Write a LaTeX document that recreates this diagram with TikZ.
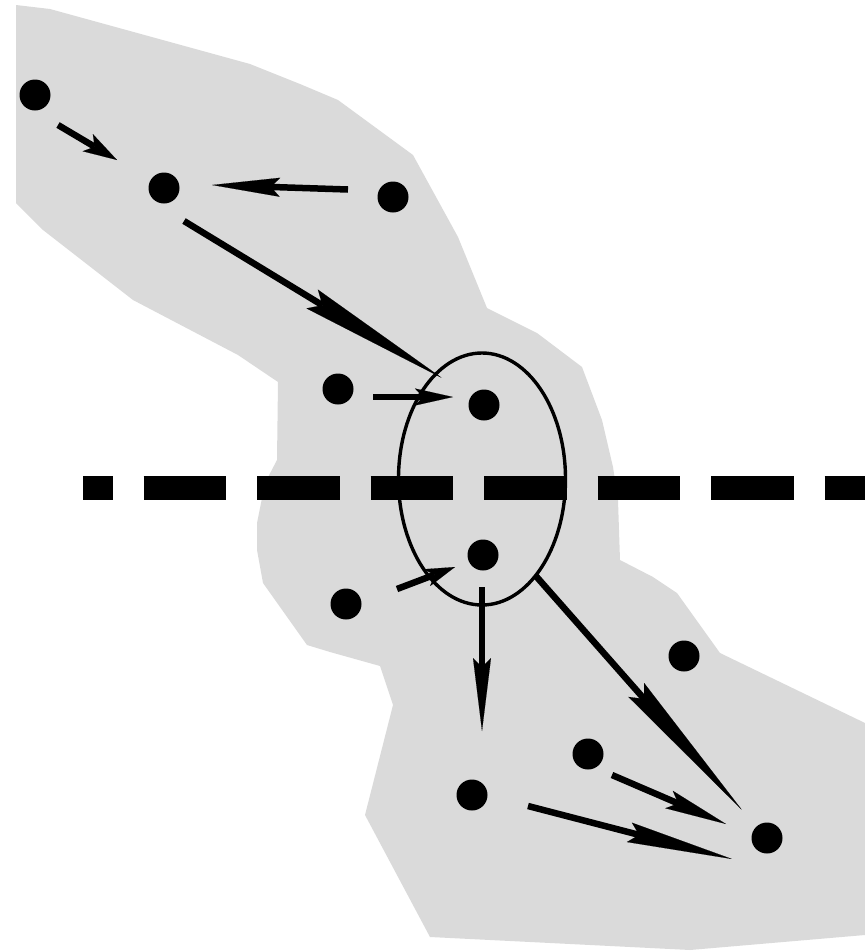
\documentclass[tikz,border=0pt]{standalone}
\usetikzlibrary{arrows.meta,shapes.geometric,calc}
\definecolor{regiongray}{RGB}{218,218,218}
\begin{document}
\begin{tikzpicture}[x=1pt,y=-1pt,
  dot/.style={circle,fill=black,minimum size=31pt,inner sep=0pt,outer sep=0pt},
  clusterbox/.style={ellipse,draw=black,line width=3.4pt,minimum width=167pt,minimum height=252pt,inner sep=0pt,outer sep=0pt},
  flow/.style={line width=6.5pt,draw=black},
  divider/.style={line width=24pt,dash pattern=on 82.7pt off 30.8pt,dash phase=53pt}
]
\useasboundingbox (0,0) rectangle (865,951);
% shaded region
\fill[regiongray] (16,5) -- (50,9) -- (250,64) -- (300,84) -- (338,100) -- (413,155)
  -- (458,237) -- (487,308) -- (537,333) -- (582,367) -- (602,420) -- (613,467)
  -- (618,500) -- (620,560) -- (653,577) -- (677,593) -- (720,653) -- (865,723)
  -- (865,935) -- (690,950) -- (430,937) -- (365,815) -- (393,705) -- (380,666)
  -- (330,652) -- (307,645) -- (263,583) -- (257,550) -- (257,523) -- (265,483)
  -- (277,460) -- (278,382) -- (238,355) -- (133,300) -- (43,230) -- (16,203) -- cycle;
% dividing line
\coordinate (dl) at (83,488);
\coordinate (dr) at (865,488);
\draw[divider] (dl) -- (dr);
% cluster
\node[clusterbox] (cl) at (482,479) {};
% points
\node[dot] (d1) at (35,95) {};
\node[dot] (d2) at (164,188) {};
\node[dot] (d3) at (393,197) {};
\node[dot] (d4) at (338,389) {};
\node[dot] (d5) at (484,405) {};
\node[dot] (d6) at (483,555) {};
\node[dot] (d7) at (346,604) {};
\node[dot] (d8) at (684,656) {};
\node[dot] (d9) at (588,754) {};
\node[dot] (d10) at (472,795) {};
\node[dot] (d11) at (767,838) {};
% arrows
\draw[flow,-{Stealth[length=34pt,width=20pt,inset=8pt,line width=0.1pt]}]
  ($(d1)+(23,30)$) -- ($(d2)+(-47,-28)$);
\draw[flow,-{Stealth[length=68pt,width=19pt,inset=9pt,line width=0.1pt]}]
  ($(d3)+(-45,-7.5)$) -- ($(d2)+(48,-3)$);
\draw[flow,-{Stealth[length=152pt,width=22pt,inset=12pt,line width=0.1pt]}]
  ($(d2)+(20,33)$) -- ($(cl)+(-40,-101)$);
\draw[flow,-{Stealth[length=38pt,width=17pt,inset=8pt,line width=0.1pt]}]
  ($(d4)+(35,8)$) -- ($(d5)+(-31,-8)$);
\draw[flow,-{Stealth[length=30pt,width=18pt,inset=8pt,line width=0.1pt]}]
  ($(d7)+(51,-15)$) -- ($(d6)+(-28,12)$);
\draw[flow,-{Stealth[length=73pt,width=18pt,inset=9pt,line width=0.1pt]}]
  ($(d6)+(-1,32)$) -- ($(d10)+(10,-64)$);
\draw[flow,-{Stealth[length=160pt,width=21pt,inset=12pt,line width=0.1pt]}]
  ($(cl)+(53,96)$) -- ($(d11)+(-25,-28)$);
\draw[flow,-{Stealth[length=62pt,width=19pt,inset=10pt,line width=0.1pt]}]
  ($(d9)+(24,21)$) -- ($(d11)+(-41,-14)$);
\draw[flow,-{Stealth[length=106pt,width=20pt,inset=10pt,line width=0.1pt]}]
  ($(d10)+(56,11)$) -- ($(d11)+(-35,21)$);
\end{tikzpicture}
\end{document}
